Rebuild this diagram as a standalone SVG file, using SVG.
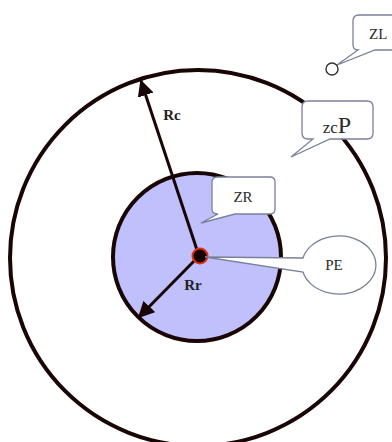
<svg xmlns="http://www.w3.org/2000/svg" width="392" height="442" viewBox="0 0 392 442">
<defs>
<style>
.ring{fill:none;stroke:#1a0505;stroke-width:4}
.radius{stroke:#1a0505;stroke-width:3;fill:none}
.callout{fill:#fff;stroke:#7a8098;stroke-width:1.3}
.lbl{font-family:"Liberation Serif","DejaVu Serif",serif;fill:#2a2a2a;}
.blbl{font-family:"Liberation Serif","DejaVu Serif",serif;font-weight:bold;fill:#222;font-size:15px}
</style>
<marker id="ah" viewBox="0 0 10 10" refX="9" refY="5" markerWidth="5.5" markerHeight="5.5" markerUnits="strokeWidth" orient="auto">
<path d="M0,0 L10,5 L0,10 z" fill="#1a0505"/>
</marker>
</defs>
<rect width="392" height="442" fill="#fff"/>
<g id="outer-circle"><circle class="ring" cx="198" cy="258" r="188"/></g>
<g id="inner-circle"><circle cx="197" cy="257" r="84" fill="#bfc0fc" stroke="#1a0505" stroke-width="4"/></g>
<g id="connectors">
<line class="radius" x1="199" y1="256" x2="141" y2="81" marker-end="url(#ah)"/>
<line class="radius" x1="199" y1="256" x2="139" y2="317" marker-end="url(#ah)"/>
</g>
<g id="center"><circle cx="200" cy="256" r="7.5" fill="#160000" stroke="#e03010" stroke-width="2"/></g>
<g id="label-Rc"><text class="blbl" x="172" y="120" text-anchor="middle">Rc</text></g>
<g id="label-Rr"><text class="blbl" x="193" y="290" text-anchor="middle">Rr</text></g>
<g id="callout-ZR">
<path class="callout" d="M218,177 H270 Q275,177 275,182 V209 Q275,214 270,214 H235 L201,223 L218,214 Q212,214 212,209 V182 Q212,177 218,177 Z"/>
<text class="lbl" x="243" y="202" font-size="15" text-anchor="middle">ZR</text>
</g>
<g id="callout-PE">
<path class="callout" d="M205,257 L303,258 A37,29 0 1 1 303,272 Z" stroke="#333"/>
<text class="lbl" x="334" y="270" font-size="15" text-anchor="middle">PE</text>
</g>
<g id="callout-zcP">
<path class="callout" d="M308,101 H367 Q373,101 373,107 V133 Q373,139 367,139 H330 L291,157 L313,139 H308 Q302,139 302,133 V107 Q302,101 308,101 Z"/>
<text class="lbl" x="337" y="133" text-anchor="middle"><tspan font-size="17">zc</tspan><tspan font-size="24">P</tspan></text>
</g>
<g id="callout-ZL">
<path class="callout" d="M359,15 H400 V50 H375 L337,65 L358,50 Q353,50 353,45 V21 Q353,15 359,15 Z"/>
<text class="lbl" x="369" y="39" font-size="15">ZL</text>
</g>
<g id="point-ZL"><circle cx="332" cy="69" r="6" fill="#fff" stroke="#333" stroke-width="1.4"/></g>
</svg>
